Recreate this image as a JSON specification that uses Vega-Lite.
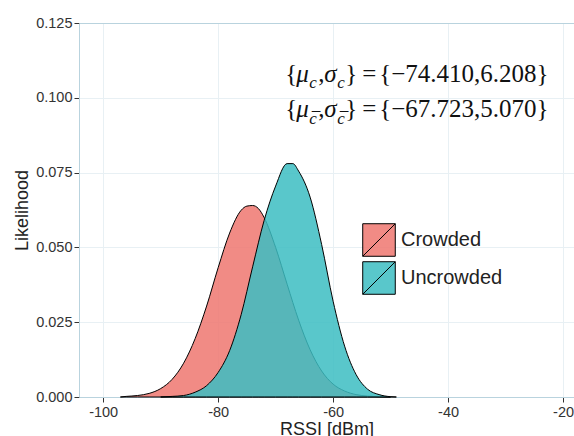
{
  "$schema": "https://vega.github.io/schema/vega-lite/v6.json",
  "width": 495,
  "height": 374,
  "autosize": {"type": "none"},
  "padding": {"left": 79, "top": 23, "right": 0, "bottom": 39},
  "background": "white",
  "config": {
    "view": {"stroke": null},
    "axis": {
      "labelFont": "Liberation Sans",
      "labelFontSize": 14.5,
      "labelColor": "#333333",
      "tickColor": "#333333",
      "tickSize": 5,
      "domainColor": "#b9d3de",
      "gridColor": "#e8f0f4",
      "titleFont": "Liberation Sans",
      "titleFontSize": 18,
      "titleFontWeight": "normal",
      "titleColor": "#222222"
    }
  },
  "layer": [
    {
      "data": {
        "values": [
          {"rssi": -97, "p": 0.0000, "g": "Crowded"},
          {"rssi": -96, "p": 0.0002, "g": "Crowded"},
          {"rssi": -94, "p": 0.0005, "g": "Crowded"},
          {"rssi": -92, "p": 0.0012, "g": "Crowded"},
          {"rssi": -90, "p": 0.0028, "g": "Crowded"},
          {"rssi": -88, "p": 0.0059, "g": "Crowded"},
          {"rssi": -86, "p": 0.0113, "g": "Crowded"},
          {"rssi": -84, "p": 0.0195, "g": "Crowded"},
          {"rssi": -82, "p": 0.0304, "g": "Crowded"},
          {"rssi": -80, "p": 0.0432, "g": "Crowded"},
          {"rssi": -78, "p": 0.0548, "g": "Crowded"},
          {"rssi": -76, "p": 0.0624, "g": "Crowded"},
          {"rssi": -75, "p": 0.0638, "g": "Crowded"},
          {"rssi": -74, "p": 0.0640, "g": "Crowded"},
          {"rssi": -73, "p": 0.0630, "g": "Crowded"},
          {"rssi": -72, "p": 0.0600, "g": "Crowded"},
          {"rssi": -70, "p": 0.0500, "g": "Crowded"},
          {"rssi": -68, "p": 0.0377, "g": "Crowded"},
          {"rssi": -66, "p": 0.0257, "g": "Crowded"},
          {"rssi": -64, "p": 0.0158, "g": "Crowded"},
          {"rssi": -62, "p": 0.0087, "g": "Crowded"},
          {"rssi": -60, "p": 0.0043, "g": "Crowded"},
          {"rssi": -58, "p": 0.0020, "g": "Crowded"},
          {"rssi": -56, "p": 0.0008, "g": "Crowded"},
          {"rssi": -54, "p": 0.0003, "g": "Crowded"},
          {"rssi": -52, "p": 0.0001, "g": "Crowded"},
          {"rssi": -50, "p": 0.0000, "g": "Crowded"},
          {"rssi": -90, "p": 0.0000, "g": "Uncrowded"},
          {"rssi": -88, "p": 0.0002, "g": "Uncrowded"},
          {"rssi": -86, "p": 0.0005, "g": "Uncrowded"},
          {"rssi": -84, "p": 0.0016, "g": "Uncrowded"},
          {"rssi": -82, "p": 0.0038, "g": "Uncrowded"},
          {"rssi": -80, "p": 0.0082, "g": "Uncrowded"},
          {"rssi": -78, "p": 0.0155, "g": "Uncrowded"},
          {"rssi": -76, "p": 0.0275, "g": "Uncrowded"},
          {"rssi": -74, "p": 0.0435, "g": "Uncrowded"},
          {"rssi": -72, "p": 0.0590, "g": "Uncrowded"},
          {"rssi": -70, "p": 0.0705, "g": "Uncrowded"},
          {"rssi": -68, "p": 0.0780, "g": "Uncrowded"},
          {"rssi": -67, "p": 0.0780, "g": "Uncrowded"},
          {"rssi": -66, "p": 0.0755, "g": "Uncrowded"},
          {"rssi": -64, "p": 0.0668, "g": "Uncrowded"},
          {"rssi": -62, "p": 0.0510, "g": "Uncrowded"},
          {"rssi": -60, "p": 0.0320, "g": "Uncrowded"},
          {"rssi": -58, "p": 0.0170, "g": "Uncrowded"},
          {"rssi": -56, "p": 0.0075, "g": "Uncrowded"},
          {"rssi": -54, "p": 0.0026, "g": "Uncrowded"},
          {"rssi": -52, "p": 0.0008, "g": "Uncrowded"},
          {"rssi": -50, "p": 0.0001, "g": "Uncrowded"},
          {"rssi": -49, "p": 0.0000, "g": "Uncrowded"}
        ]
      },
      "mark": {"type": "area", "interpolate": "monotone", "fillOpacity": 0.85, "stroke": "black", "strokeWidth": 1, "strokeOpacity": 1},
      "encoding": {
        "x": {
          "field": "rssi", "type": "quantitative",
          "scale": {"domain": [-104.2, -18.1], "nice": false, "zero": false},
          "axis": {"values": [-100, -80, -60, -40, -20], "labelExpr": "datum.value + ''", "title": "RSSI [dBm]", "titlePadding": 2, "labelPadding": 3}
        },
        "y": {
          "field": "p", "type": "quantitative", "stack": null,
          "scale": {"domain": [0, 0.125], "nice": false},
          "axis": {
            "values": [0, 0.025, 0.05, 0.075, 0.1, 0.125], "format": ".3f", "title": "Likelihood", "titlePadding": 4, "labelPadding": 2,
            "gridColor": {"condition": {"test": "datum.value == 0.125", "value": "#b9d3de"}, "value": "#e8f0f4"}
          }
        },
        "color": {
          "field": "g", "type": "nominal",
          "scale": {"domain": ["Crowded", "Uncrowded"], "range": ["#EF7770", "#3CBDC2"]},
          "legend": {
            "orient": "none", "legendX": 283, "legendY": 200, "title": null,
            "symbolType": "M-1,-1H1V1H-1Z M-1,1L1,-1", "symbolSize": 1060,
            "symbolStrokeColor": "black", "symbolStrokeWidth": 1,
            "rowPadding": 0, "padding": 0, "labelOffset": 5,
            "labelFont": "Liberation Sans", "labelFontSize": 20, "labelColor": "#222222",
            "encode": {"symbols": {"update": {"fillOpacity": {"value": 0.85}, "stroke": {"value": "black"}}}}
          }
        }
      }
    },
    {
      "data": {
        "values": [
          {"x": -68.34, "y": 0.10528, "t": "{"},
          {"x": -62.60, "y": 0.10528, "t": ","},
          {"x": -57.90, "y": 0.10528, "t": "}"},
          {"x": -54.95, "y": 0.10528, "t": "="},
          {"x": -51.99, "y": 0.10528, "t": "{−74.410,6.208}"},
          {"x": -68.34, "y": 0.09358, "t": "{"},
          {"x": -62.60, "y": 0.09358, "t": ","},
          {"x": -57.90, "y": 0.09358, "t": "}"},
          {"x": -54.95, "y": 0.09358, "t": "="},
          {"x": -51.99, "y": 0.09358, "t": "{−67.723,5.070}"}
        ]
      },
      "mark": {"type": "text", "font": "Liberation Serif", "fontSize": 25, "align": "left", "baseline": "alphabetic", "color": "#111111"},
      "encoding": {
        "x": {"field": "x", "type": "quantitative"},
        "y": {"field": "y", "type": "quantitative"},
        "text": {"field": "t"}
      }
    },
    {
      "data": {
        "values": [
          {"x": -66.43, "y": 0.10528, "t": "μ"},
          {"x": -61.56, "y": 0.10528, "t": "σ"},
          {"x": -66.43, "y": 0.09358, "t": "μ"},
          {"x": -61.56, "y": 0.09358, "t": "σ"}
        ]
      },
      "mark": {"type": "text", "font": "Liberation Serif", "fontSize": 25, "fontStyle": "italic", "align": "left", "baseline": "alphabetic", "color": "#111111"},
      "encoding": {
        "x": {"field": "x", "type": "quantitative"},
        "y": {"field": "y", "type": "quantitative"},
        "text": {"field": "t"}
      }
    },
    {
      "data": {
        "values": [
          {"x": -64.17, "y": 0.10328, "t": "c"},
          {"x": -59.30, "y": 0.10328, "t": "c"},
          {"x": -64.17, "y": 0.09124, "t": "c"},
          {"x": -59.30, "y": 0.09124, "t": "c"},
          {"x": -63.95, "y": 0.09124, "t": "¯"},
          {"x": -59.08, "y": 0.09124, "t": "¯"}
        ]
      },
      "mark": {"type": "text", "font": "Liberation Serif", "fontSize": 17, "fontStyle": "italic", "align": "left", "baseline": "alphabetic", "color": "#111111"},
      "encoding": {
        "x": {"field": "x", "type": "quantitative"},
        "y": {"field": "y", "type": "quantitative"},
        "text": {"field": "t"}
      }
    }
  ]
}
